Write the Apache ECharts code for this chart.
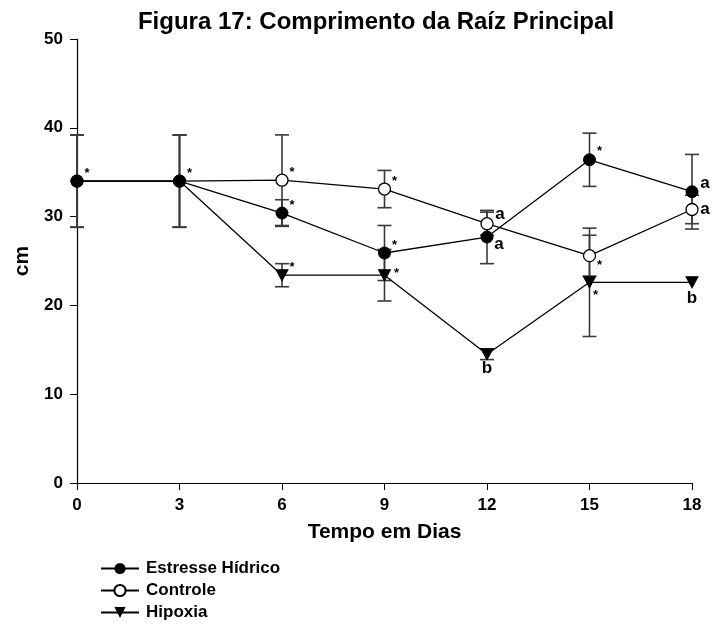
<!DOCTYPE html>
<html>
<head>
<meta charset="utf-8">
<script src="https://cdn.jsdelivr.net/npm/echarts@6/dist/echarts.min.js"></script>
<style>
  html, body { margin: 0; padding: 0; background: #fff; }
  #chart { width: 714px; height: 625px; }
</style>
</head>
<body>
<div id="chart"></div>
<script>
// dias
var days = [0, 3, 6, 9, 12, 15, 18];

// medias (cm)
var estresse = [34.0, 34.0, 30.4, 25.9, 27.7, 36.4, 32.8];
var controle = [34.0, 34.0, 34.1, 33.1, 29.2, 25.6, 30.8];
var hipoxia  = [34.0, 34.0, 23.4, 23.4, 14.5, 22.6, 22.6];

// desvios (barras de erro)
var estresseErr = [5.2, 5.2, 1.5, 3.1, 3.0, 3.0, 4.2];
var controleErr = [5.2, 5.2, 5.1, 2.1, 1.3, 2.3, 1.6];
var hipoxiaErr  = [5.2, 5.2, 1.3, 2.9, 0.6, 6.1, 0];

// letras / asteriscos
var estresseTxt = ['*', '*', '*', '*', 'a', '*', 'a'];
var controleTxt = ['', '', '*', '*', 'a', '*', 'a'];
var hipoxiaTxt  = ['', '', '*', '*', 'b', '*', 'b'];

var font = '"Liberation Sans", Arial, sans-serif';

// deslocamento do texto de cada ponto
function labelStyle(txt, off) {
    var star = txt === '*';
    return {
        show: txt !== '',
        formatter: txt,
        position: 'inside',
        offset: off,
        color: '#000',
        fontFamily: font,
        fontWeight: 'bold',
        fontSize: star ? 13 : 17
    };
}

function buildData(vals, txts, offs) {
    return vals.map(function (v, i) {
        var t = txts[i];
        var off = offs[i] || (t === '*' ? [10, -8] : [12, 0]);
        return { value: [days[i], v], label: labelStyle(t, off) };
    });
}

function errData(vals, errs) {
    var out = [];
    vals.forEach(function (v, i) {
        if (errs[i] > 0) out.push([days[i], v - errs[i], v + errs[i]]);
    });
    return out;
}

function renderErr(params, api) {
    var x = api.value(0);
    var lo = api.coord([x, api.value(1)]);
    var hi = api.coord([x, api.value(2)]);
    var w = 7;
    var st = { stroke: '#3a3a3a', lineWidth: 1.6 };
    return {
        type: 'group',
        children: [
            { type: 'line', shape: { x1: lo[0], y1: lo[1], x2: hi[0], y2: hi[1] }, style: st },
            { type: 'line', shape: { x1: lo[0] - w, y1: lo[1], x2: lo[0] + w, y2: lo[1] }, style: st },
            { type: 'line', shape: { x1: hi[0] - w, y1: hi[1], x2: hi[0] + w, y2: hi[1] }, style: st }
        ]
    };
}

// o triangulo fica escondido onde coincide com o circulo cheio
function hipSize(val, params) {
    var i = params.dataIndex;
    if (params.dataIndex === undefined) return [12, 11];
    return hipoxia[i] === estresse[i] ? 0 : [12, 11];
}

var chart = echarts.init(document.getElementById('chart'));

var estOffs = [null, null, null, null, [12, 7], null, [13, -8]];
var conOffs = [null, null, null, null, [13, -9], [10, 10], [13, 0]];
var hipOffs = [null, null, null, [12, -2], [0, 14], [6, 13], [0, 16]];

var option = {
    animation: false,
    backgroundColor: '#fff',
    title: {
        text: 'Figura 17: Comprimento da Raíz Principal',
        left: 371,
        textAlign: 'center',
        top: 5,
        textStyle: { fontFamily: font, fontWeight: 'bold', fontSize: 24, color: '#000' }
    },
    grid: { left: 77, right: 22, top: 39, bottom: 142 },
    legend: {
        orient: 'vertical',
        left: 95,
        top: 555,
        height: 80,
        itemWidth: 38,
        itemHeight: 14,
        itemGap: 5,
        textStyle: { fontFamily: font, fontWeight: 'bold', fontSize: 17, color: '#000', padding: [0, 0, 0, 2] },
        data: ['Estresse Hídrico', 'Controle', 'Hipoxia']
    },
    xAxis: {
        type: 'value',
        min: 0, max: 18, interval: 3,
        name: 'Tempo em Dias',
        nameLocation: 'middle',
        nameGap: 39,
        nameTextStyle: { fontFamily: font, fontWeight: 'bold', fontSize: 21, color: '#000' },
        axisLine: { lineStyle: { color: '#000', width: 1.2 } },
        axisTick: { length: 7, lineStyle: { color: '#000' } },
        axisLabel: { fontFamily: font, fontWeight: 'bold', fontSize: 17, color: '#000', margin: 14 },
        splitLine: { show: false }
    },
    yAxis: {
        type: 'value',
        min: 0, max: 50, interval: 10,
        name: 'cm',
        nameLocation: 'middle',
        nameGap: 43,
        nameTextStyle: { fontFamily: font, fontWeight: 'bold', fontSize: 21, color: '#000' },
        axisLine: { show: true, lineStyle: { color: '#000', width: 1.2 } },
        axisTick: { show: true, length: 7, lineStyle: { color: '#000' } },
        axisLabel: { fontFamily: font, fontWeight: 'bold', fontSize: 17, color: '#000', margin: 14 },
        splitLine: { show: false }
    },
    series: [
        { type: 'custom', renderItem: renderErr, data: errData(estresse, estresseErr), z: 1, silent: true },
        { type: 'custom', renderItem: renderErr, data: errData(controle, controleErr), z: 1, silent: true },
        { type: 'custom', renderItem: renderErr, data: errData(hipoxia, hipoxiaErr), z: 1, silent: true },
        {
            name: 'Hipoxia', type: 'line', z: 3,
            symbol: 'triangle', symbolRotate: 180, symbolSize: hipSize,
            lineStyle: { color: '#000', width: 1.3 },
            itemStyle: { color: '#000', borderColor: '#000' },
            data: buildData(hipoxia, hipoxiaTxt, hipOffs)
        },
        {
            name: 'Controle', type: 'line', z: 4,
            symbol: 'circle', symbolSize: 12,
            lineStyle: { color: '#000', width: 1.3 },
            itemStyle: { color: '#fff', borderColor: '#000', borderWidth: 1.3 },
            data: buildData(controle, controleTxt, conOffs)
        },
        {
            name: 'Estresse Hídrico', type: 'line', z: 5,
            symbol: 'circle', symbolSize: 12,
            lineStyle: { color: '#000', width: 1.3 },
            itemStyle: { color: '#000', borderColor: '#000' },
            data: buildData(estresse, estresseTxt, estOffs)
        }
    ]
};

chart.setOption(option);
</script>
</body>
</html>
